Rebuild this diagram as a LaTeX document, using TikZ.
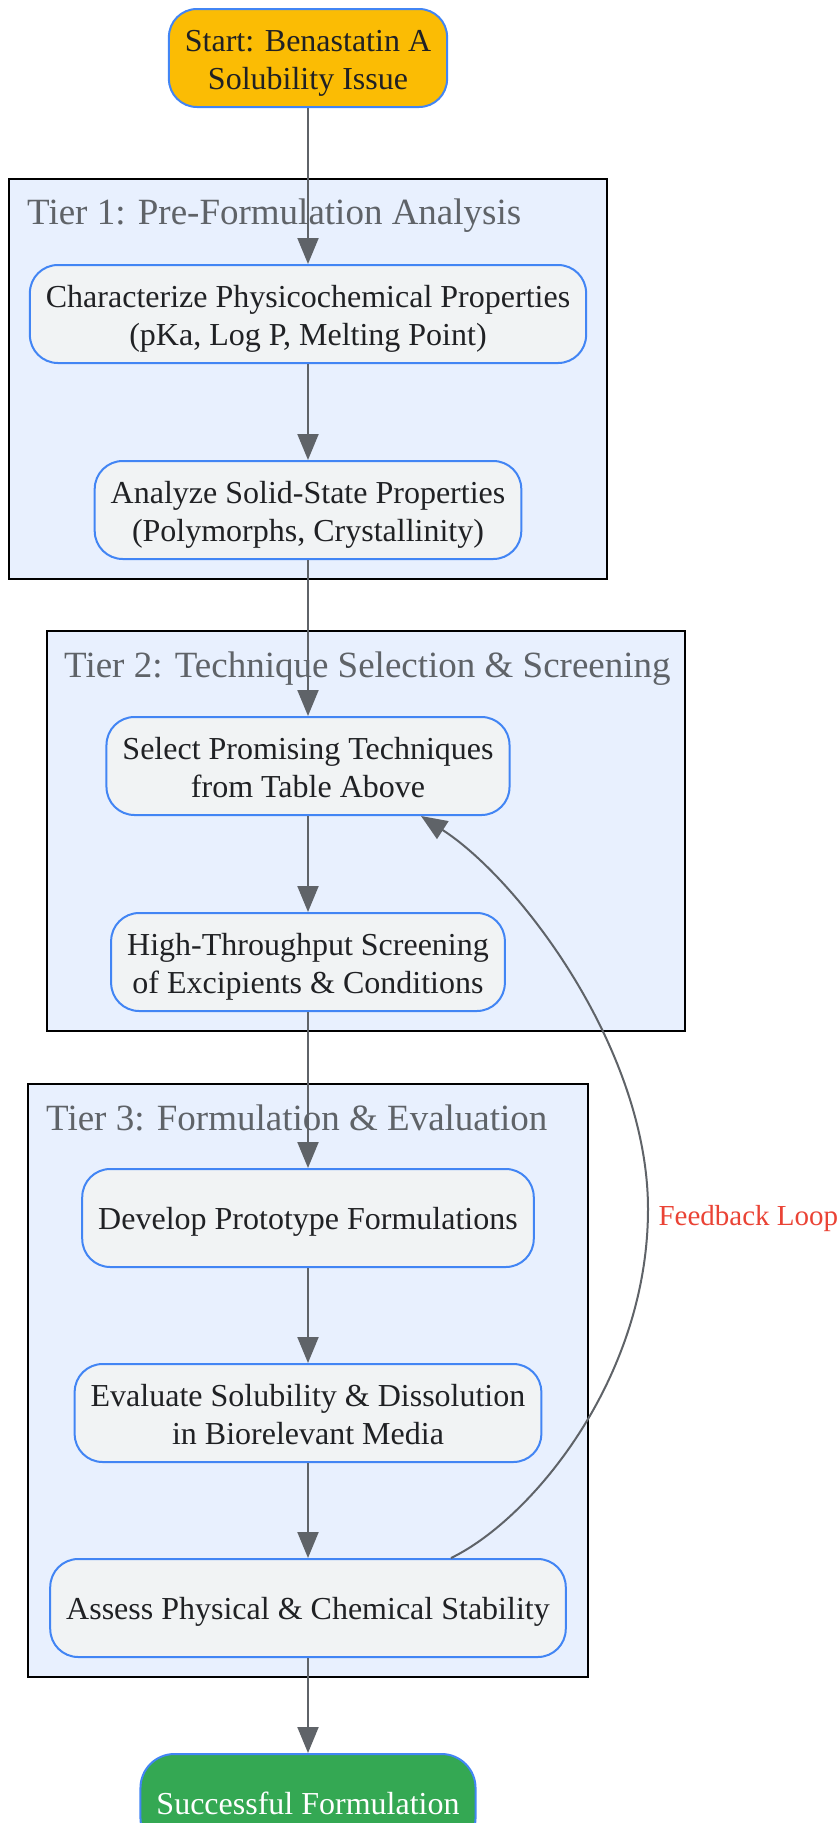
\documentclass[tikz,border=0pt]{standalone}
\usepackage{fontspec}
\setmainfont{Liberation Serif}
\usetikzlibrary{shapes, arrows.meta}
\definecolor{startyellow}{HTML}{FBBC04}
\definecolor{donegreen}{HTML}{34A853}
\definecolor{nodeblue}{HTML}{4285F4}
\definecolor{nodegray}{HTML}{F1F3F4}
\definecolor{tierblue}{HTML}{E8F0FE}
\definecolor{titlegray}{HTML}{5F6368}
\definecolor{edgegray}{HTML}{5F6368}
\definecolor{textdark}{HTML}{202124}
\definecolor{loopred}{HTML}{EA4335}

\begin{document}
\begin{tikzpicture}[x=1pt, y=-1pt,
						box/.style={rectangle, rounded corners=28pt, draw=nodeblue, line width=2pt, fill=nodegray,
							text=textdark, align=center, minimum height=98pt, inner xsep=16pt,
							text height=66pt, text depth=2.6pt, font=\fontsize{32}{38}\selectfont},
						oneline/.style={text height=23.2pt, text depth=0pt},
						tier/.style={rectangle, draw=black, line width=2.5pt, fill=tierblue, inner sep=0pt},
						tiertitle/.style={anchor=base west, inner sep=0pt, text=titlegray, font=\fontsize{37}{44}\selectfont},
						every path/.style={>={Triangle[length=26pt, width=21pt]}},
						flow/.style={->, color=edgegray, line width=2pt}]
					\useasboundingbox (0,0) rectangle (836,1823);

					\node[tier, minimum width=598pt, minimum height=400pt] (tier1) at (308,379) {};
					\node[tier, minimum width=638pt, minimum height=400pt] (tier2) at (366,831) {};
					\node[tier, minimum width=560pt, minimum height=593pt] (tier3) at (308,1380.5) {};
					\node[tiertitle] (title1) at (27,224) {Tier 1: Pre-Formulation Analysis};
					\node[tiertitle] (title2) at (64,677) {Tier 2: Technique Selection \& Screening};
					\node[tiertitle] (title3) at (46,1130) {Tier 3: Formulation \& Evaluation};

					\node[box, fill=startyellow] (start) at (308,58) {Start: Benastatin A\\Solubility Issue};
					\node[box] (char) at (308,314) {Characterize Physicochemical Properties\\(pKa, Log P, Melting Point)};
					\node[box] (solid) at (308,510) {Analyze Solid-State Properties\\(Polymorphs, Crystallinity)};
					\node[box] (select) at (308,766) {Select Promising Techniques\\from Table Above};
					\node[box] (hts) at (308,962) {High-Throughput Screening\\of Excipients \& Conditions};
					\node[box, oneline] (develop) at (308,1218) {Develop Prototype Formulations};
					\node[box] (evaluate) at (308,1413) {Evaluate Solubility \& Dissolution\\in Biorelevant Media};
					\node[box, oneline] (assess) at (308,1608) {Assess Physical \& Chemical Stability};
					\node[box, oneline, fill=donegreen, text=white, rounded corners=34pt] (done) at (308,1803) {Successful Formulation};

					\path [flow] (start) edge (char);
					\path [flow] (char) edge (solid);
					\path [flow] (solid) edge (select);
					\path [flow] (select) edge (hts);
					\path [flow] (hts) edge (develop);
					\path [flow] (develop) edge (evaluate);
					\path [flow] (evaluate) edge (assess);
					\path [flow] (assess) edge (done);

					% feedback from stability back to selection
					\coordinate (loopmid) at (648,1209);
					\draw [flow] ([xshift=143pt]assess.north) .. controls (530,1520) and (648,1380) .. (loopmid)
						.. controls (648,1050) and (520,880) .. ([xshift=113pt]select.south);
					\node[anchor=west, text=loopred, font=\fontsize{29}{34}\selectfont] (looplabel) at (655,1219) {Feedback Loop};
				\end{tikzpicture}
\end{document}
